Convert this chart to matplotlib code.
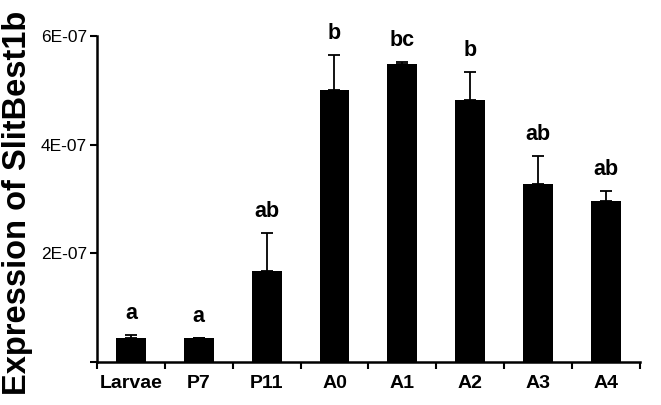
import matplotlib.pyplot as plt
import numpy as np

groups = ["Larvae", "P7", "P11", "A0", "A1", "A2", "A3", "A4"]
means = [4.5e-8, 4.5e-8, 1.68e-7, 5.01e-7, 5.49e-7, 4.82e-7, 3.28e-7, 2.97e-7]
errors = [0.5e-8, 0.0, 0.70e-7, 0.65e-7, 0.04e-7, 0.52e-7, 0.52e-7, 0.18e-7]
letters = ["a", "a", "ab", "b", "bc", "b", "ab", "ab"]
ytick_vals = [2e-7, 4e-7, 6e-7]
ytick_labels = ["2E-07", "4E-07", "6E-07"]

plt.rcParams["font.family"] = "Liberation Sans"

fig = plt.figure(figsize=(6.61, 4.05), dpi=100)
ax = fig.add_axes([0.1467, 0.106, 0.8213, 0.805])

x = np.arange(len(groups))
lower = np.zeros(len(groups))
ax.bar(x, means, width=0.44, color="black", zorder=3)
ax.errorbar(x, means, yerr=[lower, errors], fmt="none", ecolor="black",
            elinewidth=1.3, capsize=4, capthick=1.3, zorder=2)

for xi, m, e, lab in zip(x, means, errors, letters):
    ax.text(xi, m + e + 0.2e-7, lab, ha="center", va="bottom",
            fontsize=15.5, fontweight="bold")

ax.set_xlim(-0.5, len(groups) - 0.5)
ax.set_ylim(0, 6e-7)
ax.set_xticks(x)
ax.set_xticklabels(groups, fontsize=14, fontweight="bold")
ax.tick_params(axis="x", which="major", length=0, pad=9)
ax.set_xticks(np.arange(len(groups) + 1) - 0.5, minor=True)
ax.tick_params(axis="x", which="minor", length=5, width=1.5, direction="out")

ax.set_yticks([0] + ytick_vals)
ax.set_yticklabels([""] + ytick_labels, fontsize=12.5)
ax.tick_params(axis="y", length=5, width=1.5, pad=2)

for side in ["top", "right"]:
    ax.spines[side].set_visible(False)
for side in ["left", "bottom"]:
    ax.spines[side].set_linewidth(1.8)

fig.text(0.027, 0.5, "Expression of SlitBest1b", rotation=90, ha="center",
         va="center", fontsize=23.5, fontweight="bold")

fig.savefig("out.png", dpi=100)
